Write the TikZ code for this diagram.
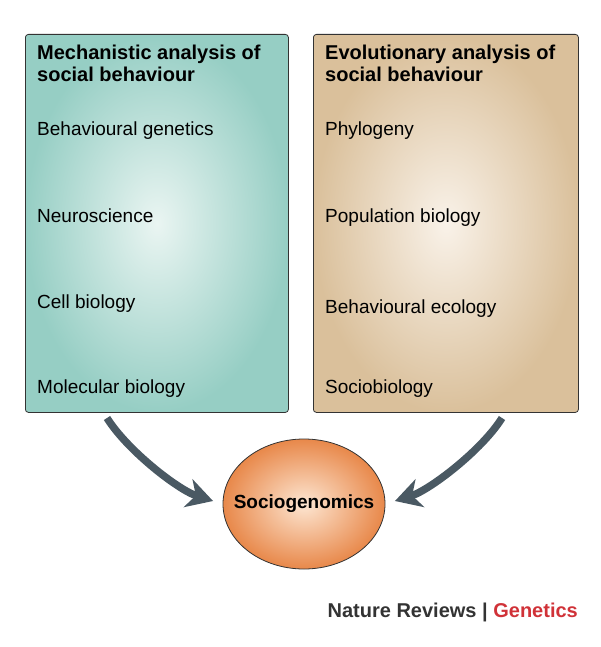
\documentclass[tikz,border=0pt]{standalone}
\usepackage{fontspec}
\setmainfont{Liberation Sans}
\usetikzlibrary{arrows.meta,shapes.geometric}
\definecolor{tealout}{RGB}{150,206,196}
\definecolor{tealin}{RGB}{234,245,242}
\definecolor{tanout}{RGB}{218,192,155}
\definecolor{tanin}{RGB}{249,242,233}
\definecolor{orangeout}{RGB}{232,136,74}
\definecolor{orangein}{RGB}{253,230,210}
\definecolor{arrowgrey}{RGB}{74,89,99}
\definecolor{ngred}{RGB}{208,50,56}
\newcommand{\txtsize}{\fontsize{19}{22}\selectfont}
\newcommand{\hdsize}{\fontsize{20}{22}\selectfont}

\begin{document}
\begin{tikzpicture}[x=1pt,y=-1pt,
      box/.style={draw=black!80,line width=0.8pt,rounded corners=3pt},
      head/.style={anchor=north west,inner sep=0pt,align=left,font=\hdsize\bfseries},
      item/.style={anchor=base west,inner sep=0pt,font=\txtsize},
      flow/.style={-{Stealth[length=26pt,width=29pt,inset=8pt]},line width=7.5pt,
        color=arrowgrey,shorten >=10pt}]
      \useasboundingbox (0,0) rectangle (600,647);

      % the two boxes
      \node[box,inner color=tealin,outer color=tealout,minimum width=263pt,
        minimum height=378pt,anchor=north west] (mech) at ( 25, 34) {};
      \node[box,inner color=tanin,outer color=tanout,minimum width=265pt,
        minimum height=378pt,anchor=north west] (evo) at (313, 34) {};

      \node[head] (mechhd) at ( 37, 45) { Mechanistic analysis of\\social behaviour };
      \node[item] (m1) at ( 37, 136) { Behavioural genetics };
      \node[item] (m2) at ( 37, 222) { Neuroscience };
      \node[item] (m3) at ( 37, 308) { Cell biology };
      \node[item] (m4) at ( 37, 393) { Molecular biology };

      \node[head] (evohd) at (325, 45) { Evolutionary analysis of\\social behaviour };
      \node[item] (e1) at (325, 136) { Phylogeny };
      \node[item] (e2) at (325, 222) { Population biology };
      \node[item] (e3) at (325, 313) { Behavioural ecology };
      \node[item] (e4) at (325, 393) { Sociobiology };

      % the ellipse
      \node[ellipse,draw=black!80,line width=0.8pt,inner color=orangein,
        outer color=orangeout,minimum width=162pt,minimum height=130pt,inner sep=0pt,
        label={[font=\txtsize\bfseries]center:Sociogenomics}] (socio) at (304, 504) {};

      \coordinate (mechout) at (107, 418);
      \coordinate (evoout)  at (502, 418);

      \draw[flow] (mechout) .. controls (127, 450) and (178, 490) .. (socio.west);
      \draw[flow] (evoout)  .. controls (482, 450) and (430, 490) .. (socio.east);

      \node[anchor=base east,inner sep=0pt,font=\hdsize\bfseries] (journal)
        at (578, 617) { \textcolor{black!80}{Nature Reviews} \textcolor{black!80}{|} \textcolor{ngred}{Genetics} };
\end{tikzpicture}
\end{document}
